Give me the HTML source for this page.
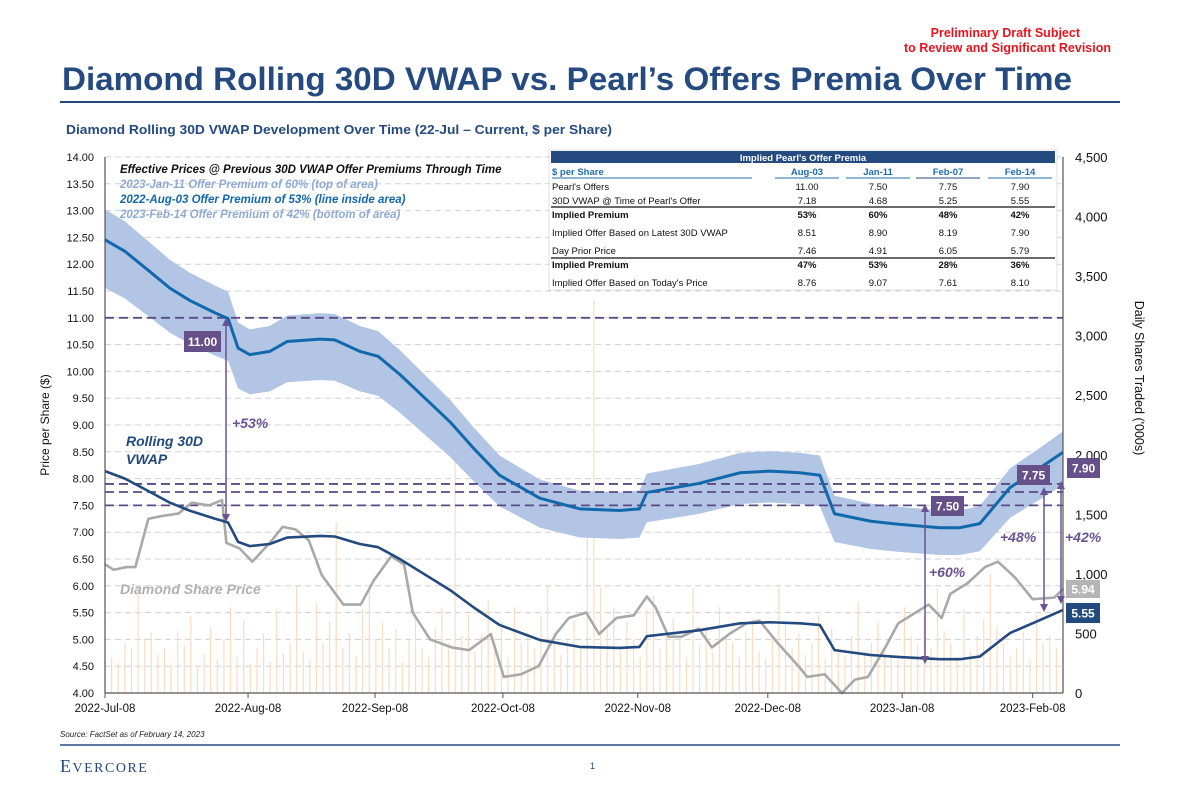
<!DOCTYPE html>
<html><head><meta charset="utf-8"><style>
body{margin:0;background:#fff;width:1180px;height:786px;overflow:hidden;font-family:"Liberation Sans",Arial,sans-serif}
svg{display:block}
</style></head><body>
<svg id="c" width="1180" height="786" viewBox="0 0 1180 786" xmlns="http://www.w3.org/2000/svg" font-family="Liberation Sans, Arial, sans-serif">
<text x="1080" y="37" text-anchor="end" fill="#e8141c" font-size="12.5" font-weight="bold">Preliminary Draft Subject</text>
<text x="1111" y="52" text-anchor="end" fill="#e8141c" font-size="12.5" font-weight="bold">to Review and Significant Revision</text>
<text x="62" y="90" fill="#244a80" font-size="32" font-weight="bold" textLength="1010" lengthAdjust="spacingAndGlyphs">Diamond Rolling 30D VWAP vs. Pearl’s Offers Premia Over Time</text>
<line x1="60" y1="102" x2="1120" y2="102" stroke="#244a80" stroke-width="2"/>
<text x="66" y="134" fill="#244a80" font-size="12.5" font-weight="bold" textLength="546" lengthAdjust="spacingAndGlyphs">Diamond Rolling 30D VWAP Development Over Time (22-Jul – Current, $ per Share)</text>
<g id="plot"></g>
<text x="60" y="737" font-size="8" font-style="italic" fill="#222">Source: FactSet as of February 14, 2023</text>
<line x1="60" y1="745" x2="1120" y2="745" stroke="#244a80" stroke-width="1.5"/>
<text x="60" y="772" font-family="Liberation Serif, serif" font-size="18" fill="#244a80" letter-spacing="1.5">E<tspan font-size="14">VERCORE</tspan></text>
<text x="590" y="769" font-size="9" fill="#244a80">1</text>
</svg>
<script>
const tickPrices=[4,4.5,5,5.5,6,6.5,7,7.5,8,8.5,9,9.5,10,10.5,11,11.5,12,12.5,13,13.5,14];
const volTicks=[0,500,1000,1500,2000,2500,3000,3500,4000,4500];
const xTickLabels=["2022-Jul-08","2022-Aug-08","2022-Sep-08","2022-Oct-08","2022-Nov-08","2022-Dec-08","2023-Jan-08","2023-Feb-08"];
const xTickDays=[0,33,62.3,91.8,122.9,152.9,183.9,214];
const vwapDays=[0,4.6,10.4,15,19.6,25.4,28.4,30.7,33.4,38,42,49.6,53,58.8,63,68,74,79.6,85,91,100.3,109.5,118.7,123.3,125,137,146.5,153.4,160.3,164.9,168.3,176.5,183.4,192.6,197.2,201.8,208.8,215.7,221];
const vwapVals=[8.14,8.0,7.75,7.55,7.4,7.25,7.18,6.82,6.74,6.78,6.9,6.93,6.92,6.78,6.72,6.5,6.2,5.92,5.6,5.27,4.99,4.86,4.84,4.86,5.06,5.17,5.3,5.32,5.3,5.27,4.8,4.71,4.67,4.63,4.63,4.68,5.12,5.36,5.55];
const premTop=0.60, premMid=0.53, premBot=0.42;
const priceDays=[0,2,5,7,10,13,17,20,24,27,28,31,34,38,41,44,47,50,55,59,62,66,69,71,75,80,84,89,92,96,100,104,107,111,114,118,122,125,127,130,133,137,140,144,148,151,155,160,162,166,170,173,176,180,183,187,190,193,195,199,203,206,210,214,219,221];
const priceVals=[6.4,6.3,6.35,6.35,7.25,7.3,7.35,7.55,7.5,7.6,6.8,6.7,6.45,6.8,7.1,7.05,6.85,6.2,5.65,5.65,6.1,6.55,6.4,5.5,5.0,4.85,4.8,5.1,4.3,4.35,4.5,5.1,5.4,5.5,5.1,5.4,5.45,5.8,5.6,5.05,5.05,5.2,4.85,5.1,5.3,5.35,4.95,4.5,4.3,4.35,4.0,4.25,4.3,4.85,5.3,5.5,5.65,5.4,5.85,6.05,6.35,6.45,6.15,5.75,5.78,5.94];
const volumes=[600,300,250,420,380,900,460,510,320,380,250,520,400,640,210,330,560,280,450,720,300,610,240,380,500,260,700,330,420,900,350,280,760,420,600,1430,380,500,310,700,880,450,590,380,540,260,440,650,380,300,540,720,420,2100,480,660,350,500,780,420,600,300,720,420,520,380,650,900,500,320,440,610,380,1300,3300,880,540,720,380,600,450,300,700,820,380,540,620,460,300,880,400,560,340,720,480,420,300,520,620,350,280,480,900,600,380,500,320,420,660,280,540,380,300,480,760,350,420,600,380,300,280,720,480,400,650,380,880,520,420,300,700,350,480,620,1000,560,420,300,380,520,280,660,420,480,380,360];
const offerLines=[11.00,7.90,7.75,7.50];

(function(){
const NS="http://www.w3.org/2000/svg";
const plot=document.getElementById('plot');
const X0=105,X1=1063,Y0=693,Y1=157,DMAX=221;
const xOf=d=>X0+d*(X1-X0)/DMAX;
const yP=v=>Y0-(v-4)*(Y0-Y1)/10;
const yV=v=>Y0-v*(Y0-Y1)/4500;
function mk(tag,attrs,parent){const e=document.createElementNS(NS,tag);for(const k in attrs)e.setAttribute(k,attrs[k]);(parent||plot).appendChild(e);return e;}
function txt(s,attrs){const e=mk('text',attrs);e.textContent=s;return e;}

tickPrices.forEach(p=>{
  if(p>4){const g=mk('line',{x1:X0,x2:X1,y1:yP(p),y2:yP(p),stroke:'#d0d0d0','stroke-dasharray':'6,4','stroke-width':1});
  
  }
  const t=txt(p.toFixed(2),{x:94,y:yP(p)+4,'text-anchor':'end','font-size':11,fill:'#111'});
  
  
});
volTicks.forEach(v=>{
  const t=txt(v.toLocaleString('en-US'),{x:1075,y:yV(v)+5,'font-size':13,fill:'#111'});
  
  
});
volumes.forEach((v,i)=>{
  const d=i*DMAX/(volumes.length-1);
  const b=mk('rect',{x:xOf(d)-0.6,y:yV(v),width:1.2,height:Y0-yV(v),fill:'#f9dcc4'});
  
  
});
const upper=vwapDays.map((d,i)=>[xOf(d),yP(vwapVals[i]*(1+premTop))]);
const lower=vwapDays.map((d,i)=>[xOf(d),yP(vwapVals[i]*(1+premBot))]).reverse();
const band=mk('path',{d:'M'+upper.map(p=>p.join(',')).join('L')+'L'+lower.map(p=>p.join(',')).join('L')+'Z',fill:'#b2c5e4'});


offerLines.forEach(o=>{
  const l=mk('line',{x1:X0,x2:X1,y1:yP(o),y2:yP(o),stroke:'#5b4a86','stroke-width':1.8,'stroke-dasharray':'9,5'});
  
  
});
function line(days,vals,f,color,w,name){
  const e=mk('polyline',{points:days.map((d,i)=>xOf(d)+','+yP(f(vals[i]))).join(' '),fill:'none',stroke:color,'stroke-width':w,'stroke-linejoin':'round'});
  
  
}
line(vwapDays,vwapVals,v=>v*(1+premMid),'#1268ad',3,'mid-premium-line');
line(priceDays,priceVals,v=>v,'#a9a9a9',2.6,'share-price-line');
line(vwapDays,vwapVals,v=>v,'#234a7e',2.6,'vwap-line');
const ax=mk('line',{x1:X0,x2:X0,y1:Y1,y2:Y0,stroke:'#555','stroke-width':1.2});


const ax2=mk('line',{x1:X1,x2:X1,y1:Y1,y2:Y0,stroke:'#555','stroke-width':1.2});


const ax3=mk('line',{x1:X0,x2:X1,y1:Y0,y2:Y0,stroke:'#555','stroke-width':1.2});


xTickDays.forEach((d,i)=>{
  mk('line',{x1:xOf(d),x2:xOf(d),y1:Y0,y2:Y0+5,stroke:'#555'});
  const t=txt(xTickLabels[i],{x:xOf(d),y:712,'text-anchor':'middle','font-size':11.5,fill:'#111'});
  
  
});
const yt=txt('Price per Share ($)',{x:0,y:0,transform:'translate(49,425) rotate(-90)','text-anchor':'middle','font-size':12,fill:'#111'});


const yt2=txt('Daily Shares Traded (\'000s)',{x:0,y:0,transform:'translate(1135,378) rotate(90)','text-anchor':'middle','font-size':12.5,fill:'#111'});


function arrow(x,y1,y2){
  mk('line',{x1:x,x2:x,y1:y1+6,y2:y2-6,stroke:'#6a5393','stroke-width':1.5});
  mk('path',{d:`M${x-4},${y1+8}L${x},${y1}L${x+4},${y1+8}Z`,fill:'#6a5393'});
  mk('path',{d:`M${x-4},${y2-8}L${x},${y2}L${x+4},${y2-8}Z`,fill:'#6a5393'});
}
arrow(226,318,522);arrow(925,504,664);arrow(1044,487,612);arrow(1061,481,604);
function box(s,x,y,w,h,fill,name){const r=mk('rect',{x,y,width:w,height:h,fill});
 
 
 txt(s,{x:x+w/2,y:y+h/2+4.5,'text-anchor':'middle','font-size':12,'font-weight':'bold',fill:'#fff'});}
box('11.00',184,331,37,21,'#66508a','offer-label-11');
box('7.50',931,496,33,20,'#66508a','offer-label-750');
box('7.75',1017,465,33,20,'#66508a','offer-label-775');
box('7.90',1067,458,33,20,'#66508a','offer-label-790');
box('5.94',1066,580,34,18,'#b5b5b5','price-label');
box('5.55',1066,603,34,20,'#234a7e','vwap-label');
function it(s,x,y,c,sz,name){const t=txt(s,{x,y,'font-size':sz,'font-style':'italic','font-weight':'bold',fill:c});
 
 }
it('+53%',232,428,'#6a5393',14,'premium-53');
it('+60%',929,577,'#6a5393',14,'premium-60');
it('+48%',1000,542,'#6a5393',14,'premium-48');
it('+42%',1065,542,'#6a5393',14,'premium-42');
it('Rolling 30D',126,446,'#234a7e',14,'vwap-caption-1');
it('VWAP',126,464,'#234a7e',14,'vwap-caption-2');
it('Diamond Share Price',120,594,'#b0b0b0',14,'price-caption');
it('Effective Prices @ Previous 30D VWAP Offer Premiums Through Time',120,173,'#111',11.5,'legend-title');
it('2023-Jan-11 Offer Premium of 60% (top of area)',120,188,'#8fa9d6',11.5,'legend-top');
it('2022-Aug-03 Offer Premium of 53% (line inside area)',120,203,'#1268ad',11.5,'legend-mid');
it('2023-Feb-14 Offer Premium of 42% (bottom of area)',120,218,'#8fa9d6',11.5,'legend-bottom');
const cols=['Aug-03','Jan-11','Feb-07','Feb-14'];
const rows=[["Pearl's Offers",'11.00','7.50','7.75','7.90',187,0],["30D VWAP @ Time of Pearl's Offer",'7.18','4.68','5.25','5.55',201,0],
['Implied Premium','53%','60%','48%','42%',215,1],['Implied Offer Based on Latest 30D VWAP','8.51','8.90','8.19','7.90',233,0],
['Day Prior Price','7.46','4.91','6.05','5.79',251,0],['Implied Premium','47%','53%','28%','36%',265,1],["Implied Offer Based on Today's Price",'8.76','9.07','7.61','8.10',283,0]];
const cx=[807,878,948,1020];
const tb=mk('rect',{x:549,y:150,width:508,height:140,fill:'#fff',stroke:'#ccc','stroke-width':0.6});


mk('rect',{x:551,y:151,width:504,height:12,fill:'#244a80'});
txt("Implied Pearl's Offer Premia",{x:803,y:161,'text-anchor':'middle','font-size':9.5,'font-weight':'bold',fill:'#fff'});
txt('$ per Share',{x:552,y:175,'font-size':9.5,'font-weight':'bold',fill:'#1f6cb0'});
mk('line',{x1:552,x2:752,y1:178,y2:178,stroke:'#1f6cb0'});
cols.forEach((c,i)=>{txt(c,{x:cx[i],y:175,'text-anchor':'middle','font-size':9.5,'font-weight':'bold',fill:'#1f6cb0'});
 mk('line',{x1:cx[i]-32,x2:cx[i]+32,y1:178,y2:178,stroke:i==2?'#244a80':'#1f6cb0'});});
rows.forEach(r=>{const b=r[6]?'bold':'normal';
 txt(r[0],{x:552,y:r[5]+3,'font-size':9.5,'font-weight':b,fill:'#111'});
 for(let i=0;i<4;i++)txt(r[i+1],{x:cx[i],y:r[5]+3,'text-anchor':'middle','font-size':9.5,'font-weight':b,fill:'#111'});});
mk('line',{x1:551,x2:1055,y1:207,y2:207,stroke:'#111','stroke-width':1.2});
mk('line',{x1:551,x2:1055,y1:258,y2:258,stroke:'#111','stroke-width':1.2});
})();
</script>
</body></html>
